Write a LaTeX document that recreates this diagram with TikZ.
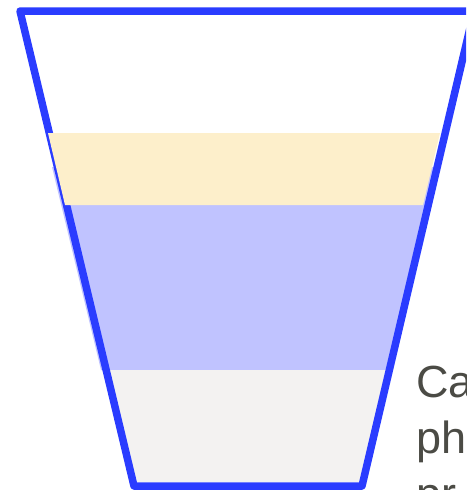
\documentclass[tikz,border=0pt]{standalone}
\usepackage{fontspec}
\setmainfont{Liberation Sans}
\definecolor{cupblue}{HTML}{2A3CFF}
\definecolor{cream}{HTML}{FDEFCB}
\definecolor{lilac}{HTML}{C0C3FF}
\definecolor{foam}{HTML}{F3F2F1}
\definecolor{ink}{HTML}{4B4B45}
\begin{document}
\begin{tikzpicture}[
            x=1pt,
            y=-1pt,
            band/.style={draw=none},
            every node/.style={
                anchor=base west,
                inner sep=0pt,
                text=ink,
                font=\fontsize{45}{54}\selectfont
            }
        ]
            \useasboundingbox (0,0) rectangle (466,490);
            \clip (0,0) rectangle (466,490);

            % layers under the rim
            \fill[band, lilac] (52,167) -- (437,167) -- (389,370) -- (101,370) -- cycle;
            \fill[band, foam] (106,370) -- (389,370) -- (363,482) -- (134,482) -- cycle;

            % cup
            \draw[cupblue, line width=7.5pt, line join=round]
                (20,11) -- (474,11) -- (362,486) -- (134,486) -- cycle;

            % top layer over the rim
            \fill[band, cream] (48,133) -- (440,133) -- (423,205) -- (65,205) -- cycle;

            \node (ca) at (416,397) {Ca};
            \node (ph) at (416,453) {ph};
            \node (pr) at (416,509) {pr};
        \end{tikzpicture}
\end{document}
